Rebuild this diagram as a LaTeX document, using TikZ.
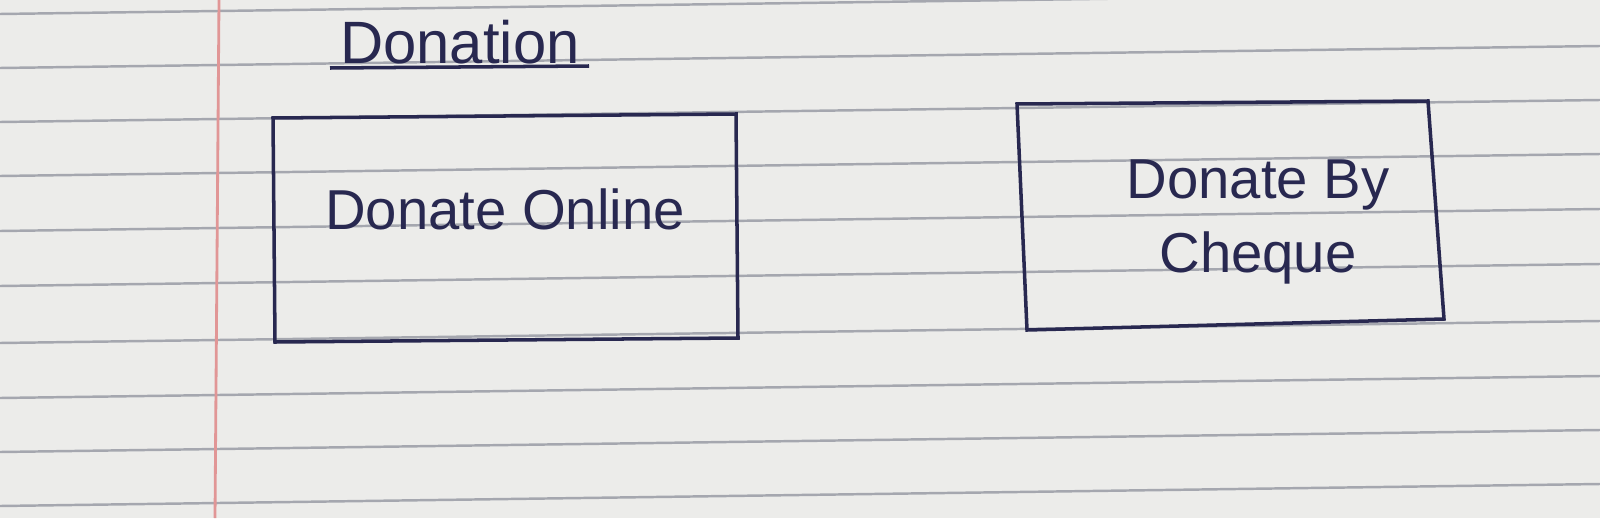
\documentclass[tikz,border=0pt]{standalone}
\usepackage{fontspec}
\setmainfont{Liberation Sans}
\usetikzlibrary{positioning}

\begin{document}
\begin{tikzpicture}[
  x=0.01cm, y=-0.01cm,
  box/.style={draw=ink, line width=1pt},
  label/.style={font=\fontsize{16}{21}\selectfont, text=ink, align=center},
  rule/.style={draw=ruling, line width=0.7pt}
]
\definecolor{paper}{RGB}{236,236,234}
\definecolor{ruling}{RGB}{165,167,175}
\definecolor{ink}{RGB}{40,40,80}
\definecolor{margin}{RGB}{225,150,150}

\fill[paper] (0,0) rectangle (1600,518);
\useasboundingbox (0,0) rectangle (1600,518);

% ruled paper
\foreach \y in {14,68,122,176,231,286,343,398,452,506}
  \draw[rule] (0,\y) -- (1600,\y-22);
\draw[margin, line width=0.8pt] (219,0) -- (215,518);

% title
\node[label, font=\fontsize{17}{20}\selectfont] (title) at (460,42) {Donation};
\draw[ink, line width=1pt] (330,68) -- (589,66);

% boxes
\draw[box] (273,118) -- (736,114) -- (738,338) -- (275,342) -- cycle;
\draw[box] (1017,104) -- (1428,101) -- (1444,319) -- (1027,330) -- cycle;

\node[label] (online) at (505,209) {Donate Online};
\node[label] (cheque) at (1258,222) {Donate By\\Cheque};
\end{tikzpicture}
\end{document}
